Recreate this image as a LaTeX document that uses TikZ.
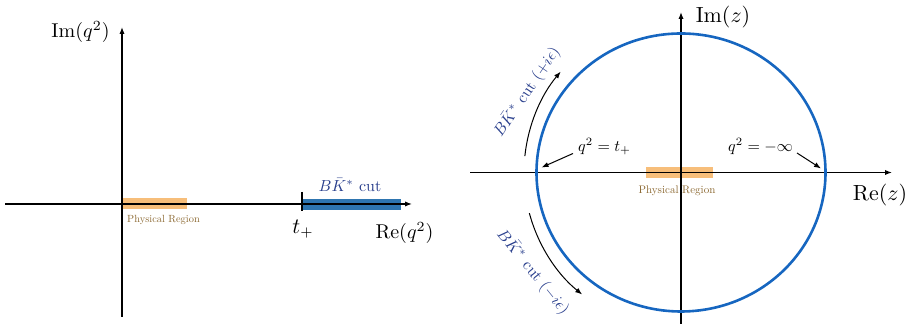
\documentclass[tikz,border=0pt]{standalone}
\usetikzlibrary{arrows.meta}
\definecolor{physfill}{RGB}{247,190,122}
\definecolor{phystext}{RGB}{140,105,50}
\definecolor{cutbar}{RGB}{46,117,176}
\definecolor{circblue}{RGB}{22,102,192}
\definecolor{lblblue}{RGB}{40,62,140}
\newcommand{\shrinkto}[2]{\scalebox{#1}{#2}}
\tikzset{
  axis/.style={line width=0.55pt,-{Latex[length=3.5pt,width=2.6pt]}},
  physbar/.style={physfill,line width=5.6pt},
  cutstyle/.style={cutbar,line width=5.6pt},
  physlbl/.style={text=phystext,inner sep=0pt},
  bigl/.style={font=\fontsize{10.5}{12}\selectfont,inner sep=0pt},
  smalll/.style={inner sep=0pt},
  bluel/.style={text=lblblue,inner sep=0pt},
  pointer/.style={line width=0.5pt,-{Latex[length=3.5pt,width=2.6pt]}},
}
\begin{document}
\begin{tikzpicture}[x=0.5pt,y=0.5pt]
\useasboundingbox (0,0) rectangle (905,324);
% ---------- left panel ----------
\coordinate (lxs) at (5,120);
\coordinate (lxe) at (412,120);
\coordinate (lys) at (122,7);
\coordinate (lye) at (122,297);
\draw[physbar] (122,120.5) -- (187,120.5);
\draw[cutstyle] (302,119.5) -- (401,119.5);
\draw[axis] (lxs) -- (lxe);
\draw[axis] (lys) -- (lye);
\coordinate (tk1) at (302,132);
\coordinate (tk2) at (302,113);
\draw[line width=0.6pt] (tk1) -- (tk2);
\node[bigl,font=\fontsize{9.6}{11}\selectfont] (limq) at (80.5,292) {$\mathrm{Im}(q^2)$};
\node[bigl,font=\fontsize{9.6}{11}\selectfont] (lreq) at (404.5,91) {$\mathrm{Re}(q^2)$};
\node[bigl] (ltp) at (303,95) {$t_+$};
\node[physlbl] (lphys) at (163.5,104) {\shrinkto{0.52}{Physical Region}};
\node[bluel] (lcut) at (350,139) {\shrinkto{0.8}{$B\bar{K}^{*}$ cut}};
% ---------- right panel ----------
\coordinate (rxs) at (470,151.5);
\coordinate (rxe) at (892,151.5);
\coordinate (rys) at (681,0);
\coordinate (rye) at (681,312);
\coordinate (c) at (681,151.5);
\draw[physbar] (646,151.8) -- (713,151.8);
\draw[axis] (rxs) -- (rxe);
\draw[axis] (rys) -- (rye);
\draw[circblue,line width=1.3pt] (c) ellipse [x radius=144.5,y radius=139];
\node[bigl] (rim) at (723,307) {$\mathrm{Im}(z)$};
\node[bigl] (rre) at (880,129) {$\mathrm{Re}(z)$};
\node[physlbl] (rphys) at (677,133) {\shrinkto{0.55}{Physical Region}};
\node[smalll] (qt) at (604.5,177.5) {\shrinkto{0.8}{$q^2=t_+$}};
\node[smalll] (qinf) at (760.5,177.5) {\shrinkto{0.8}{$q^2=-\infty$}};
\coordinate (qta) at (573,170.5);
\coordinate (qtb) at (541.5,156.5);
\coordinate (qia) at (797,171);
\coordinate (qib) at (821,155.5);
\draw[pointer] (qta) -- (qtb);
\draw[pointer] (qia) -- (qib);
\draw[pointer] (c) ++(174:157) arc[start angle=174,end angle=140,radius=157];
\draw[pointer] (c) ++(195:157) arc[start angle=195,end angle=231,radius=157];
\node[bluel,rotate=56] (upl) at (527,232) {\shrinkto{0.8}{$B\bar{K}^{*}$ cut $(+i\epsilon)$}};
\node[bluel,rotate=-51] (lowl) at (533,52) {\shrinkto{0.8}{$B\bar{K}^{*}$ cut $(-i\epsilon)$}};
\end{tikzpicture}
\end{document}
